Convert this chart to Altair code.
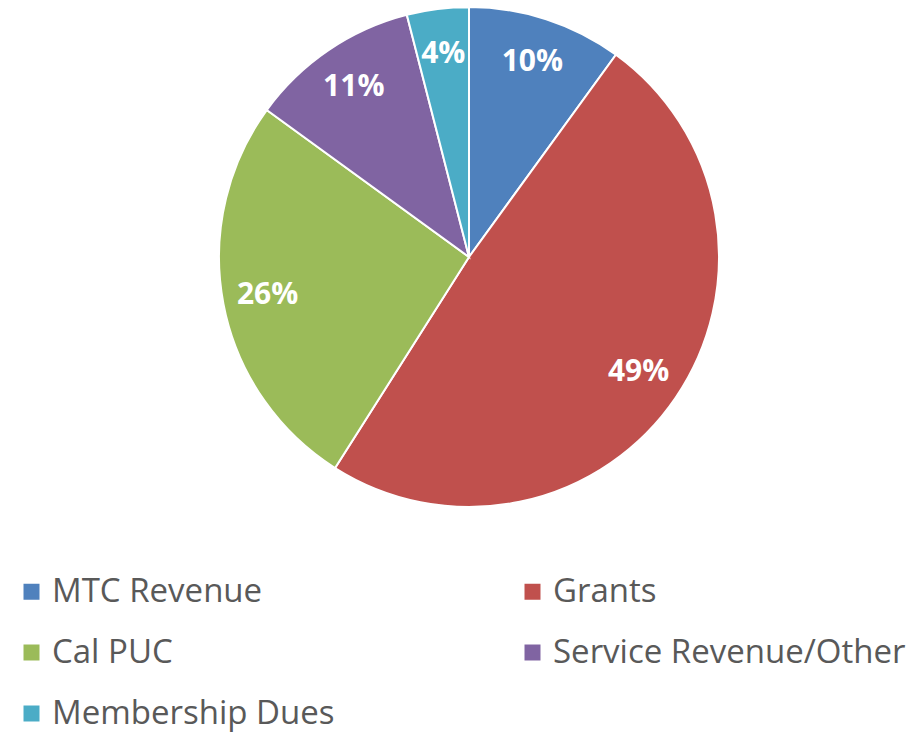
import altair as alt
import pandas as pd

categories = ["MTC Revenue", "Grants", "Cal PUC", "Service Revenue/Other", "Membership Dues"]
values = [10, 49, 26, 11, 4]
labels = ["10%", "49%", "26%", "11%", "4%"]
colors = ["#4F81BD", "#C0504D", "#9BBB59", "#8064A2", "#4BACC6"]
# legend is filled column by column, so list it in that order
legend_order = ["MTC Revenue", "Cal PUC", "Membership Dues", "Grants", "Service Revenue/Other"]

df = pd.DataFrame({
    "category": categories,
    "value": values,
    "label": labels,
    "order": list(range(len(categories))),
})

color = alt.Color(
    "category:N",
    scale=alt.Scale(domain=categories, range=colors),
    sort=categories,
    legend=alt.Legend(
        title=None,
        orient="none",
        legendX=7,
        legendY=567,
        columns=2,
        values=legend_order,
        symbolType="square",
        symbolSize=256,
        symbolStrokeWidth=0,
        labelFontSize=33,
        labelFont="Open Sans",
        labelColor="#595959",
        labelOffset=4,
        labelLimit=600,
        columnPadding=181,
        rowPadding=27,
        padding=0,
    ),
)

base = alt.Chart(df).encode(
    theta=alt.Theta("value:Q", stack=True),
    order=alt.Order("order:Q"),
)

pie = base.mark_arc(outerRadius=250, stroke="white", strokeWidth=2).encode(
    color=color,
    x=alt.value(461),
    y=alt.value(249),
)

text = base.mark_text(
    radius=205,
    font="Open Sans",
    fontSize=30,
    fontWeight="bold",
    color="white",
).encode(
    text="label:N",
    x=alt.value(461),
    y=alt.value(249),
)

chart = alt.layer(pie, text).properties(
    width=901,
    height=726,
    padding=0,
    autosize=alt.AutoSizeParams(type="none"),
).configure_view(stroke=None)

chart.save("out.html", embed_options={"renderer": "svg", "actions": False})
